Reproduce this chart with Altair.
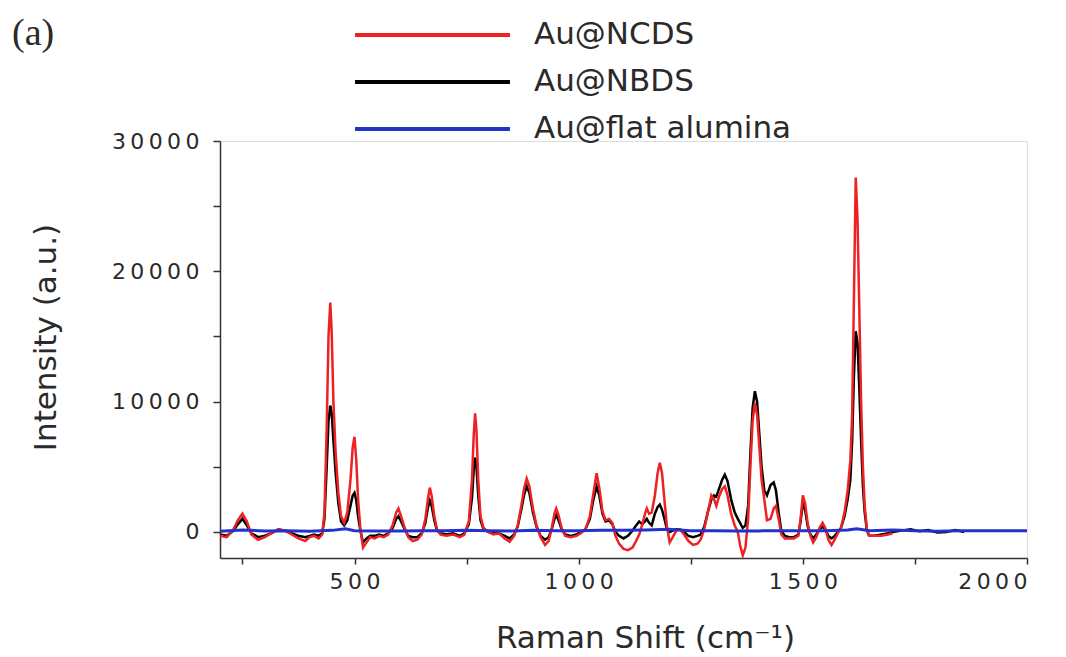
import altair as alt
import pandas as pd

series_names = ["Au@NCDS", "Au@NBDS", "Au@flat alumina"]
series_colors = ["#ee2222", "#000000", "#2233cc"]

# Au@NCDS (red)
ncds_shift = [200, 215, 230, 240, 250, 260, 270, 285, 300, 315, 330, 345, 360, 375, 390, 400, 410, 420, 428,
              433, 438, 442, 446, 449, 453, 458, 464, 470, 477, 484, 491, 496, 500, 504, 508, 513, 519,
              527, 535, 545, 555, 565, 575, 585, 593, 598, 604, 612, 620, 630, 640, 650, 658, 664, 668,
              672, 678, 684, 692, 705, 720, 735, 745, 755, 762, 766, 769, 772, 776, 781, 788, 798, 810,
              822, 835, 846, 856, 864, 872, 878, 884, 890, 898, 906, 915, 925, 933, 940, 946, 950, 955,
              962, 970, 982, 995, 1005, 1015, 1025, 1033, 1040, 1046, 1053, 1060, 1068, 1075, 1082, 1090,
              1100, 1110, 1120, 1128, 1135, 1142, 1148, 1152, 1157, 1163, 1170, 1176, 1181, 1186, 1192,
              1197, 1203, 1210, 1218, 1226, 1235, 1245, 1255, 1265, 1272, 1280, 1288, 1296, 1302, 1307,
              1313, 1320, 1326, 1332, 1340, 1348, 1355, 1360, 1366, 1372, 1378, 1383, 1388, 1393, 1398,
              1403, 1408, 1414, 1420, 1428, 1435, 1440, 1446, 1452, 1460, 1470, 1480, 1490, 1495, 1500,
              1505, 1511, 1517, 1523, 1530, 1537, 1544, 1550, 1557, 1564, 1571, 1578, 1585, 1593, 1600,
              1606, 1610, 1614, 1618, 1622, 1626, 1630, 1634, 1638, 1643, 1648, 1660, 1675, 1690, 1700]
ncds_int = [-300, -400, 200, 900, 1400, 800, -200, -600, -400, -100, 200, 100, -200, -500, -700, -400, -300, -500, -200,
            1500, 8000, 15000, 17600, 15500, 10000, 6000, 3000, 1200, 700, 1500, 4000, 6500, 7300, 5500, 2500, 300, -1200,
            -800, -400, -500, -300, -400, -200, 500, 1500, 1800, 1200, 300, -400, -700, -600, -200, 1000, 2600, 3400,
            2800, 1200, 200, -200, -300, -200, -400, -200, 800, 4000, 7500, 9100, 7800, 4000, 1200, 300, 0, -200,
            -100, -500, -750, -300, 500, 2000, 3300, 4100, 3500, 1800, 500, -400, -1000, -700, 300, 1400, 1800, 1300,
            300, -300, -400, -300, -100, 200, 1200, 3000, 4500, 3400, 1600, 900, 1000, 700, -300, -900,
            -1300, -1400, -1200, -700, -200, 600, 1400, 1800, 1400, 1500, 2800, 4500, 5300, 4500, 2200,
            400, -800, -400, 100, 200, -200, -700, -1000, -900, -600, 200, 1500, 2800, 2500, 2000,
            2700, 3300, 3500, 2800, 1400, 500, 0, -1000, -1800, -1200, 1000, 5000, 8500, 9900, 9000,
            6500, 4000, 2500, 900, 1000, 1800, 2000, 1000, -200, -500, -500, -500, -300, 1000, 2800,
            2200, 600, -300, -800, -400, 300, 700, 300, -600, -1000, -600, -100, 300, 1500, 3200,
            5500, 9000, 18000, 27200, 24000, 17000, 10000, 5000, 2000, 200, -300, -300, -300, -200, -100]

# Au@NBDS (black)
nbds_shift = [200, 215, 230, 240, 250, 260, 270, 285, 300, 315, 330, 345, 360, 375, 390, 400, 410, 420, 428,
              433, 438, 442, 446, 449, 453, 458, 464, 470, 477, 484, 491, 496, 500, 504, 508, 513, 519,
              527, 535, 545, 555, 565, 575, 585, 593, 598, 604, 612, 620, 630, 640, 650, 658, 664, 668,
              672, 678, 684, 692, 705, 720, 735, 745, 755, 762, 766, 769, 772, 776, 781, 788, 798, 810,
              822, 835, 846, 856, 864, 872, 878, 884, 890, 898, 906, 915, 925, 933, 940, 946, 950, 955,
              962, 970, 982, 995, 1005, 1015, 1025, 1033, 1040, 1046, 1053, 1060, 1068, 1075, 1082, 1090,
              1100, 1110, 1120, 1128, 1135, 1142, 1148, 1152, 1157, 1163, 1170, 1176, 1181, 1186, 1192,
              1197, 1203, 1210, 1218, 1226, 1235, 1245, 1255, 1265, 1272, 1280, 1288, 1296, 1302, 1307,
              1313, 1320, 1326, 1332, 1340, 1348, 1355, 1360, 1366, 1372, 1378, 1383, 1388, 1393, 1398,
              1403, 1408, 1414, 1420, 1428, 1435, 1440, 1446, 1452, 1460, 1470, 1480, 1490, 1495, 1500,
              1505, 1511, 1517, 1523, 1530, 1537, 1544, 1550, 1557, 1564, 1571, 1578, 1585, 1593, 1600,
              1606, 1610, 1614, 1618, 1622, 1626, 1630, 1634, 1638, 1643, 1648, 1660, 1675, 1690, 1700,
              1720, 1740, 1760, 1780, 1800, 1820, 1840, 1860]
nbds_int = [-200, -300, 100, 600, 1000, 500, -100, -400, -300, -100, 200, 100, -100, -300, -400, -300, -200, -300, -100,
            1000, 5000, 8500, 9700, 9200, 7000, 4500, 2200, 800, 500, 900, 2000, 2800, 3000, 2400, 1200, 100, -800,
            -500, -300, -300, -200, -300, -100, 300, 1000, 1200, 800, 200, -300, -400, -400, -100, 700, 1900, 2400,
            2000, 900, 100, -100, -200, -100, -300, -100, 600, 2600, 4800, 5700, 5000, 2800, 900, 200, 0, -100,
            -100, -300, -500, -200, 400, 1700, 2800, 3500, 3000, 1500, 400, -300, -600, -400, 200, 1000, 1300, 900,
            200, -200, -300, -200, 0, 200, 1000, 2500, 3500, 2800, 1400, 800, 900, 600, 0, -300,
            -500, -300, 100, 500, 800, 600, 800, 1000, 700, 500, 1400, 1900, 2100, 1700, 900,
            200, 0, 100, 200, 200, 0, -300, -400, -300, -200, 400, 1500, 2500, 2800, 2700,
            3300, 4000, 4400, 3900, 2500, 1500, 1000, 700, 300, 500, 2000, 6000, 9500, 10800, 10000,
            7500, 5000, 3200, 2800, 3600, 3800, 3200, 1500, 100, -300, -400, -400, -200, 800, 2200,
            1700, 400, -200, -500, -200, 200, 400, 200, -300, -500, -300, 0, 300, 1200, 2500,
            4000, 7000, 12000, 15400, 14500, 11000, 7000, 3500, 1500, 100, -300, -300, -200, -100, 0,
            100, 200, 50, 150, -50, 0, 150, 0]

# Au@flat alumina (blue)
flat_shift = [200, 250, 300, 350, 400, 450, 480, 500, 550, 600, 650, 700, 750, 800, 850, 900, 950, 1000,
              1050, 1100, 1150, 1200, 1250, 1300, 1350, 1400, 1450, 1500, 1550, 1600, 1620, 1650, 1700,
              1750, 1800, 1850, 1900, 1950, 2000]
flat_int = [50, 150, 80, 100, 60, 120, 250, 100, 80, 80, 100, 100, 120, 100, 80, 120, 100, 100,
            120, 120, 150, 200, 100, 100, 80, 80, 100, 100, 100, 150, 250, 100, 150,
            100, 50, 100, 100, 100, 100]

frames = []
for name, xs, ys in [(series_names[0], ncds_shift, ncds_int),
                     (series_names[1], nbds_shift, nbds_int),
                     (series_names[2], flat_shift, flat_int)]:
    frames.append(pd.DataFrame({"shift": xs, "intensity": ys, "sample": name}))
df = pd.concat(frames, ignore_index=True)

FONT = "DejaVu Sans"
TXT = "#2a2a2a"
SPACED = "replace(datum.label, regexp('(\\\\d)(?=\\\\d)', 'g'), '$1\u2009')"

color_scale = alt.Scale(domain=series_names, range=series_colors)

x_enc = alt.X("shift:Q",
              scale=alt.Scale(domain=[200, 2000], nice=False, zero=False),
              axis=alt.Axis(title="Raman Shift (cm\u207b\u00b9)",
                            values=[250, 500, 750, 1000, 1250, 1500, 1750, 2000],
                            format="d",
                            labelExpr="datum.value % 500 == 0 ? " + SPACED + " : ''",
                            grid=False, tickSize=6, labelPadding=7,
                            labelFontSize=22, labelFont=FONT, labelColor=TXT,
                            titleFontSize=31, titleFont=FONT, titleColor=TXT, titleFontWeight="normal",
                            titleX=425, titleY=89, titleBaseline="alphabetic",
                            domainColor="#333333", tickColor="#333333", domainWidth=1.5, tickWidth=1.5))
y_enc = alt.Y("intensity:Q",
              scale=alt.Scale(domain=[-2000, 30000], nice=False, zero=False),
              axis=alt.Axis(title="Intensity (a.u.)",
                            values=[0, 5000, 10000, 15000, 20000, 25000, 30000],
                            format="d",
                            labelExpr="datum.value % 10000 == 0 ? " + SPACED + " : ''",
                            grid=False, tickSize=7, labelPadding=14,
                            labelFontSize=22, labelFont=FONT, labelColor=TXT,
                            titleFontSize=31, titleFont=FONT, titleColor=TXT, titleFontWeight="normal",
                            titleX=-158, titleY=196,
                            domainColor="#333333", tickColor="#333333", domainWidth=1.5, tickWidth=1.5))

color_enc = alt.Color("sample:N", scale=color_scale,
                      legend=alt.Legend(title=None, orient="none", legendX=133, legendY=-122,
                                        symbolType="stroke", symbolSize=24000, symbolStrokeWidth=4,
                                        clipHeight=32,
                                        labelFont=FONT, labelFontSize=31, labelColor=TXT,
                                        labelOffset=22, rowPadding=15, padding=0, labelLimit=400))

base = alt.Chart(df).encode(x=x_enc, y=y_enc, color=color_enc)

layers = []
for name, w in [(series_names[1], 2.5), (series_names[0], 2.5), (series_names[2], 3.0)]:
    layers.append(base.transform_filter(alt.datum.sample == name).mark_line(strokeWidth=w))

chart = alt.layer(*layers).properties(
    width=807, height=417,
    title=alt.TitleParams("(a)", anchor="start", frame="group", font="Liberation Serif", fontSize=38,
                          fontWeight="normal", color=TXT, dx=-208, dy=64, offset=0,
                          baseline="alphabetic"),
    autosize=alt.AutoSizeParams(type="none"),
    padding={"left": 220, "top": 141, "right": 39, "bottom": 99},
).configure_view(stroke="transparent", strokeWidth=0).configure(background="white")

chart.save("out.html", embed_options={"renderer": "svg", "actions": False})
